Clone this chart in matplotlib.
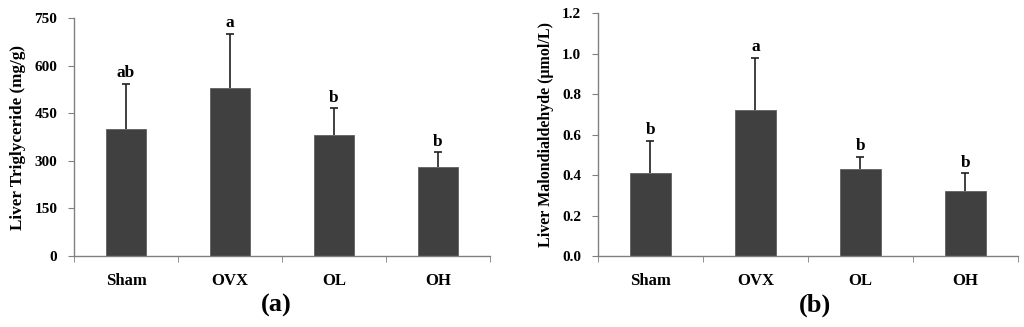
import matplotlib.pyplot as plt
import numpy as np

groups = ["Sham", "OVX", "OL", "OH"]
tg_mean = [400, 530, 380, 280]
tg_err = [143, 170, 85, 47]
tg_letters = ["ab", "a", "b", "b"]
mda_mean = [0.41, 0.72, 0.43, 0.32]
mda_err = [0.16, 0.26, 0.06, 0.09]
mda_letters = ["b", "a", "b", "b"]

plt.rcParams['font.family'] = ['Liberation Serif', 'DejaVu Serif']
plt.rcParams['font.weight'] = 'bold'

fig = plt.figure(figsize=(10.24, 3.27), dpi=100)
ax1 = fig.add_axes([0.0723, 0.217, 0.4062, 0.728])
ax2 = fig.add_axes([0.584, 0.217, 0.410, 0.743])

def panel(ax, mean, err, letters, ymax, step, fmt, ylabel, pad, ylsize):
    x = np.arange(len(groups))
    ax.bar(x, mean, width=0.39, color='#404040', edgecolor='#606060', linewidth=0.6, zorder=2)
    eb = ax.errorbar(x, mean, yerr=[np.zeros(len(err)), err], fmt='none',
                     ecolor='#202020', elinewidth=1.2, capsize=3, capthick=1.2, zorder=3)
    eb[1][0].set_visible(False)
    for xi, m, e, t in zip(x, mean, err, letters):
        ax.text(xi, m + e + pad, t, ha='center', va='bottom', fontsize=12.5, fontweight='bold')
    ax.set_xlim(-0.5, len(groups) - 0.5)
    ax.set_ylim(0, ymax)
    ax.set_yticks(np.arange(0, ymax + step / 2, step))
    ax.yaxis.set_major_formatter(plt.FuncFormatter(lambda v, p: fmt.format(v)))
    ax.set_xticks(x)
    ax.set_xticklabels(groups, fontsize=12, fontweight='bold')
    ax.set_xticks(np.arange(-0.5, len(groups)), minor=True)
    ax.tick_params(axis='x', which='major', length=0, pad=12)
    ax.tick_params(axis='x', which='minor', length=4, color='#808080', direction='out')
    ax.tick_params(axis='y', length=4, color='#808080', labelsize=11, pad=8)
    for lbl in ax.get_yticklabels():
        lbl.set_fontweight('bold')
    for s in ['top', 'right']:
        ax.spines[s].set_visible(False)
    for s in ['left', 'bottom']:
        ax.spines[s].set_color('#808080')
        ax.spines[s].set_linewidth(1.0)
    ax.set_ylabel(ylabel, fontsize=ylsize, fontweight='bold', labelpad=6)

panel(ax1, tg_mean, tg_err, tg_letters, 750, 150, '{:.0f}', 'Liver Triglyceride (mg/g)', 8, 12.3)
panel(ax2, mda_mean, mda_err, mda_letters, 1.2, 0.2, '{:.1f}', 'Liver Malondialdehyde (\u03bcmol/L)', 0.012, 11.5)

fig.text(276 / 1024, 1 - 305 / 327, '(a)', ha='center', va='center', fontsize=19, fontweight='bold')
fig.text(815 / 1024, 1 - 305 / 327, '(b)', ha='center', va='center', fontsize=19, fontweight='bold')

fig.savefig('out.png', dpi=100)
